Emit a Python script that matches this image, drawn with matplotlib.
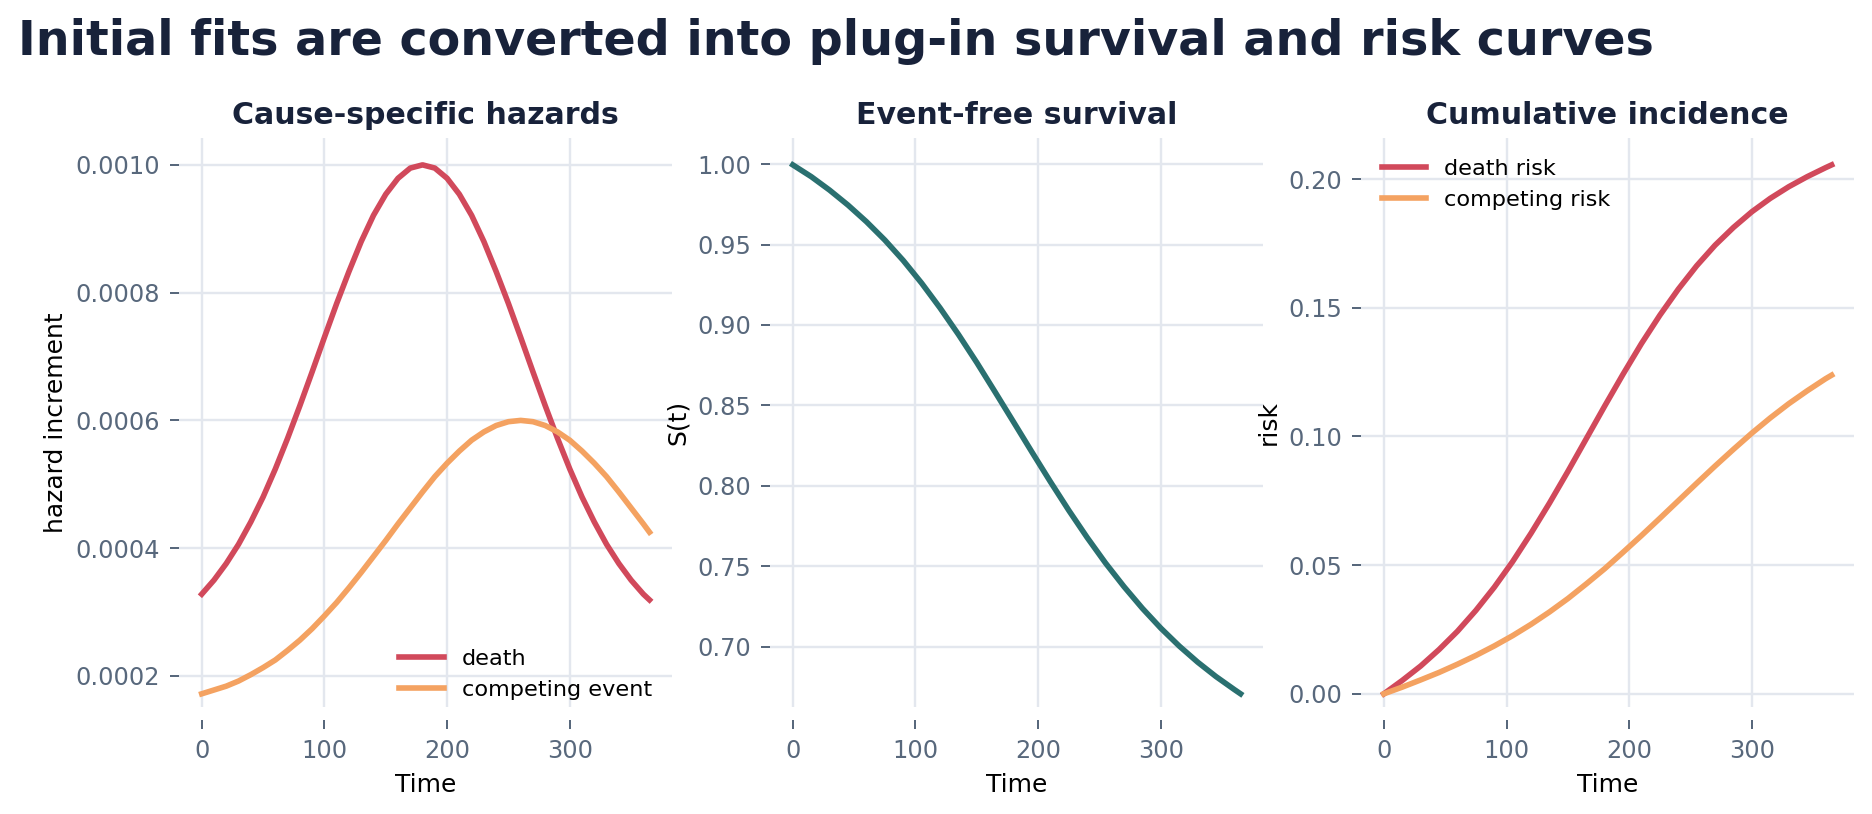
import matplotlib
matplotlib.use("Agg")
import matplotlib.pyplot as plt
from matplotlib.ticker import MultipleLocator

# Dati (tempo in giorni)
time_haz = [0, 10, 20, 30, 40, 50, 60, 70, 80, 90, 100, 110, 120, 130, 140, 150, 160,
            170, 180, 190, 200, 210, 220, 230, 240, 250, 260, 270, 280, 290, 300, 310,
            320, 330, 340, 350, 360, 365]

# Incrementi di hazard per causa
haz_death = [0.000328, 0.000350, 0.000376, 0.000406, 0.000441, 0.000480, 0.000524,
             0.000572, 0.000623, 0.000676, 0.000730, 0.000783, 0.000833, 0.000880,
             0.000921, 0.000954, 0.000979, 0.000995, 0.001000, 0.000995, 0.000979,
             0.000954, 0.000921, 0.000880, 0.000833, 0.000783, 0.000730, 0.000676,
             0.000623, 0.000572, 0.000524, 0.000480, 0.000441, 0.000406, 0.000376,
             0.000350, 0.000328, 0.000319]
haz_comp = [0.000172, 0.000178, 0.000184, 0.000192, 0.000202, 0.000213, 0.000225,
            0.000240, 0.000256, 0.000274, 0.000294, 0.000315, 0.000338, 0.000362,
            0.000387, 0.000412, 0.000438, 0.000463, 0.000488, 0.000512, 0.000533,
            0.000552, 0.000569, 0.000582, 0.000592, 0.000598, 0.000600, 0.000598,
            0.000592, 0.000582, 0.000569, 0.000552, 0.000533, 0.000512, 0.000488,
            0.000463, 0.000438, 0.000425]

time_cum = [0, 15, 30, 45, 60, 75, 90, 105, 120, 135, 150, 165, 180,
            195, 210, 225, 240, 255, 270, 285, 300, 315, 330, 345, 360, 365]

# Sopravvivenza libera da eventi
surv = [0.9995, 0.9922, 0.9838, 0.9745, 0.9642, 0.9528, 0.9401, 0.9260, 0.9106,
        0.8941, 0.8766, 0.8582, 0.8396, 0.8209, 0.8025, 0.7847, 0.7678, 0.7519,
        0.7373, 0.7238, 0.7115, 0.7004, 0.6904, 0.6814, 0.6733, 0.6707]

# Incidenza cumulativa
risk_death = [0.0, 0.0052, 0.0108, 0.0172, 0.0243, 0.0324, 0.0414, 0.0514, 0.0624,
              0.0741, 0.0864, 0.0991, 0.1118, 0.1242, 0.1361, 0.1471, 0.1572, 0.1663,
              0.1743, 0.1812, 0.1873, 0.1925, 0.1970, 0.2009, 0.2044, 0.2055]
risk_comp = [0.0, 0.0026, 0.0054, 0.0083, 0.0115, 0.0149, 0.0186, 0.0226, 0.0270,
             0.0318, 0.0370, 0.0427, 0.0486, 0.0550, 0.0615, 0.0682, 0.0750, 0.0818,
             0.0885, 0.0950, 0.1013, 0.1072, 0.1127, 0.1177, 0.1224, 0.1238]

# Colori
RED = "#d1495b"
ORANGE = "#f4a261"
TEAL = "#2a7070"
NAVY = "#18223a"
SLATE = "#58687c"
GRID = "#e3e7ee"

fig, axs = plt.subplots(1, 3, figsize=(13, 5.653), dpi=144)
fig.subplots_adjust(left=0.0958, right=0.9904, top=0.8299, bottom=0.1314, wspace=0.2)

fig.text(0.0096, 0.978, "Initial fits are converted into plug-in survival and risk curves",
         ha="left", va="top", fontsize=23.8, fontweight="bold", color=NAVY)

lw = 2.8

# Pannello 1: hazard
axs[0].plot(time_haz, haz_death, color=RED, lw=lw, label="death")
axs[0].plot(time_haz, haz_comp, color=ORANGE, lw=lw, label="competing event")
axs[0].set_title("Cause-specific hazards")
axs[0].set_ylabel("hazard increment")
axs[0].legend(loc="lower right", bbox_to_anchor=(1.0, -0.023), frameon=False, fontsize=11.2)
axs[0].yaxis.set_major_locator(MultipleLocator(0.0002))

# Pannello 2: sopravvivenza
axs[1].plot(time_cum, surv, color=TEAL, lw=lw)
axs[1].set_title("Event-free survival")
axs[1].set_ylabel("S(t)")
axs[1].yaxis.set_major_locator(MultipleLocator(0.05))

# Pannello 3: rischio cumulativo
axs[2].plot(time_cum, risk_death, color=RED, lw=lw, label="death risk")
axs[2].plot(time_cum, risk_comp, color=ORANGE, lw=lw, label="competing risk")
axs[2].set_title("Cumulative incidence")
axs[2].set_ylabel("risk")
axs[2].legend(loc="upper left", frameon=False, fontsize=11.2)
axs[2].yaxis.set_major_locator(MultipleLocator(0.05))

for ax in axs:
    ax.set_title(ax.get_title(), fontsize=15, fontweight="bold", color=NAVY, pad=7)
    ax.set_xlabel("Time", fontsize=12.5, labelpad=5)
    ax.yaxis.label.set_fontsize(12.5)
    ax.xaxis.set_major_locator(MultipleLocator(100))
    # margine inferiore ridotto, asse x staccato verso il basso
    lo, hi = ax.get_ylim()
    ax.set_ylim(lo + 0.025 * (hi - lo) / 1.1, hi)
    for s in ax.spines.values():
        s.set_visible(False)
    ax.spines["bottom"].set_position(("outward", 6.5))
    ax.grid(True, color=GRID, lw=1.2)
    ax.set_axisbelow(True)
    ax.tick_params(colors=SLATE, labelsize=12, length=4.5, width=1)
    ax.tick_params(axis="y", pad=5)
    ax.tick_params(axis="x", pad=5)

fig.savefig("out.png", dpi=144)
